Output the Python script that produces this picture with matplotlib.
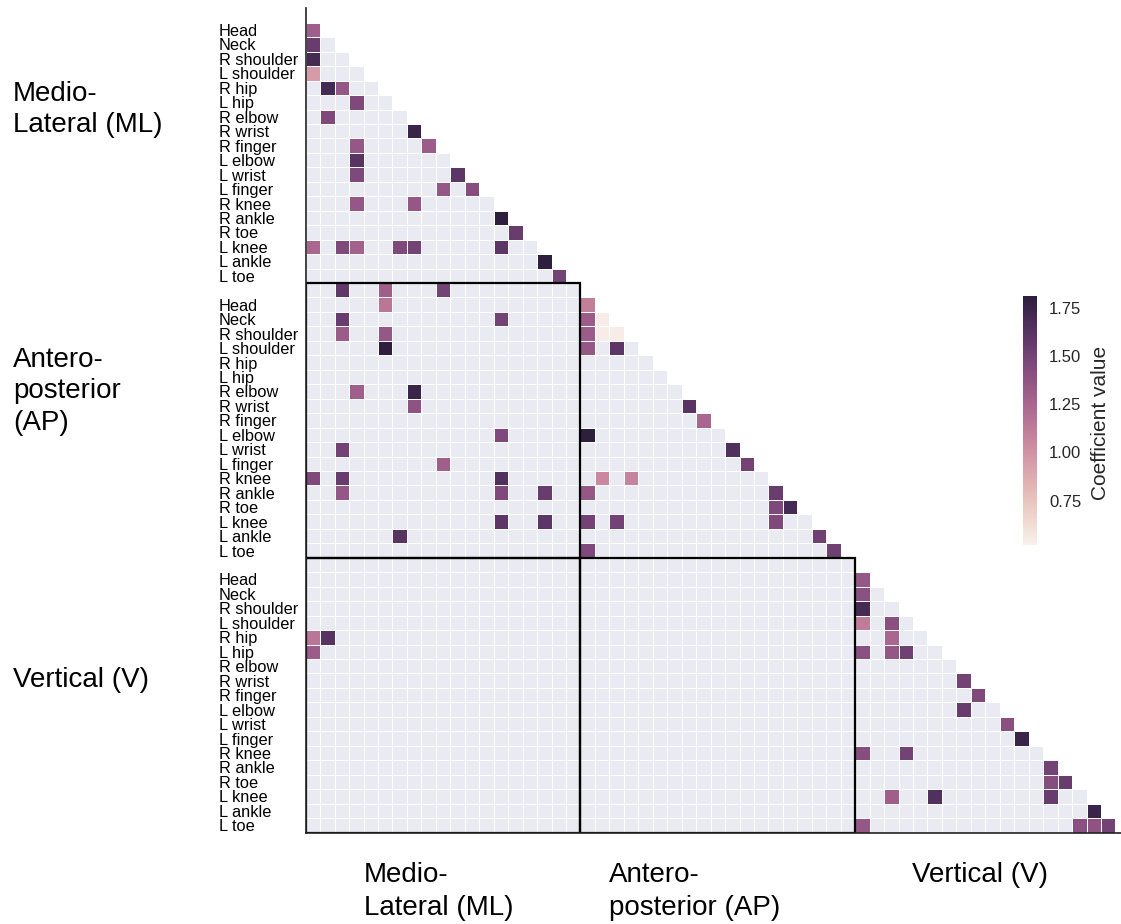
import numpy as np
import matplotlib
matplotlib.use("Agg")
import matplotlib.pyplot as plt
from matplotlib.colors import ListedColormap
from matplotlib.patches import Rectangle
import seaborn as sns

plt.rcParams['font.family'] = ['Liberation Sans', 'DejaVu Sans']

# ---------------- data ----------------
directions = ["Medio-\nLateral (ML)", "Antero-\nposterior\n(AP)", "Vertical (V)"]
x_directions = ["Medio-\nLateral (ML)", "Antero-\nposterior (AP)", "Vertical (V)"]
joints = ["Head", "Neck", "R shoulder", "L shoulder", "R hip", "L hip",
          "R elbow", "R wrist", "R finger", "L elbow", "L wrist", "L finger",
          "R knee", "R ankle", "R toe", "L knee", "L ankle", "L toe"]
# every direction block starts with one unlabeled variable, then the 18 joints
block_vars = [""] + joints

# significant coefficients: global row index, global column index, value
cell_row = [1, 2, 3, 4, 5, 5, 6, 7, 8, 9, 9, 10, 11, 11, 12, 12, 13, 13, 14, 15,
            16, 16, 16, 16, 16, 16, 17, 18,
            19, 19, 19, 20, 21, 21, 22, 22, 23, 26, 26, 27, 29, 30, 31, 32, 32, 32,
            33, 33, 33, 35, 35, 36,
            20, 21, 21, 22, 22, 22, 23, 23, 27, 28, 29, 30, 31, 32, 32, 33, 33, 34,
            34, 35, 35, 35, 36, 37, 37,
            43, 43, 44,
            39, 40, 41, 42, 42, 43, 44, 44, 44, 46, 47, 48, 49, 50, 51, 51, 52, 53,
            53, 54, 54, 54, 55, 56, 56, 56, 56]
cell_col = [0, 0, 0, 0, 1, 2, 3, 1, 7, 3, 8, 3, 3, 10, 9, 11, 3, 7, 13, 14,
            0, 2, 3, 6, 7, 13, 16, 17,
            2, 5, 9, 5, 2, 13, 2, 5, 5, 3, 7, 7, 13, 2, 9, 0, 2, 13,
            2, 13, 16, 13, 16, 6,
            19, 19, 20, 19, 20, 21, 19, 21, 26, 27, 19, 29, 30, 20, 22, 19, 32, 32,
            33, 19, 21, 32, 35, 19, 36,
            0, 1, 0,
            38, 38, 38, 38, 40, 40, 38, 40, 41, 45, 46, 45, 48, 49, 38, 41, 51, 51,
            52, 40, 43, 51, 54, 38, 53, 54, 55]
cell_value = [1.30, 1.55, 1.70, 0.95, 1.70, 1.35, 1.45, 1.45, 1.75, 1.35, 1.32, 1.62, 1.45, 1.60,
              1.35, 1.42, 1.35, 1.35, 1.80, 1.55,
              1.25, 1.45, 1.28, 1.45, 1.50, 1.60, 1.80, 1.50,
              1.58, 1.30, 1.50, 1.15, 1.55, 1.50, 1.32, 1.35, 1.80, 1.30, 1.75, 1.38, 1.45,
              1.50, 1.30, 1.45, 1.55, 1.65, 1.35, 1.45, 1.55, 1.60, 1.60, 1.62,
              1.10, 1.32, 0.55, 1.32, 0.55, 0.55, 1.35, 1.60, 1.62, 1.25, 1.80, 1.65, 1.50,
              1.05, 1.08, 1.35, 1.55, 1.45, 1.70, 1.50, 1.50, 1.45, 1.52, 1.45, 1.52,
              1.15, 1.62, 1.32,
              1.35, 1.40, 1.70, 1.12, 1.40, 1.25, 1.40, 1.35, 1.52, 1.50, 1.45, 1.55, 1.40,
              1.75, 1.42, 1.50, 1.50, 1.42, 1.55, 1.30, 1.65, 1.55, 1.75, 1.35, 1.40, 1.38, 1.50]
vmin, vmax = 0.52, 1.81
cbar_ticks = [0.75, 1.00, 1.25, 1.50, 1.75]

# ---------------- build matrices ----------------
nb = len(block_vars)
n = nb * len(directions)
rows_idx, cols_idx = np.indices((n, n))
lower = rows_idx > cols_idx
bg = np.ma.masked_where(~lower, np.ones((n, n)))
vals = np.full((n, n), np.nan)
vals[np.array(cell_row), np.array(cell_col)] = cell_value
vals = np.ma.masked_invalid(vals)

# ---------------- figure ----------------
W, H = 1121, 924
fig = plt.figure(figsize=(W / 100, H / 100), dpi=100)
cell = 14.46
ax_left, ax_top = 305.7, 8.3
ax = fig.add_axes([ax_left / W, 1 - (ax_top + n * cell) / H, n * cell / W, n * cell / H])
ax.set_facecolor('white')

edges = np.arange(n + 1)
ax.pcolormesh(edges, edges, bg, cmap=ListedColormap(['#eaeaf2']),
              edgecolors='white', linewidth=0.5)
cmap = sns.cubehelix_palette(light=0.95, dark=0.15, as_cmap=True)
mesh = ax.pcolormesh(edges, edges, vals, cmap=cmap, vmin=vmin, vmax=vmax,
                     edgecolors='white', linewidth=0.5)
ax.set_xlim(0, n)
ax.set_ylim(n, 0)

for (c0, r0) in [(0, nb), (0, 2 * nb), (nb, 2 * nb)]:
    ax.add_patch(Rectangle((c0, r0), nb, nb, fill=False, ec='black', lw=1.6, zorder=5))

for s in ['top', 'right']:
    ax.spines[s].set_visible(False)
for s in ['left', 'bottom']:
    ax.spines[s].set_color('#222222')
    ax.spines[s].set_linewidth(1.2)
    ax.spines[s].set_zorder(6)

yt, yl = [], []
for b in range(len(directions)):
    for j, name in enumerate(block_vars):
        if name:
            yt.append(b * nb + j + 0.5)
            yl.append(name)
ax.set_yticks(yt)
ax.set_yticklabels(yl, ha='left', fontsize=11.8, color='black')
ax.tick_params(axis='y', length=0, pad=(ax_left - 219) * 0.72)
ax.set_xticks([])

# direction labels
def ftext(x, y, s, **kw):
    fig.text(x / W, 1 - y / H, s, fontsize=20, color='black', va='baseline', **kw)

left_lines = [(101, "Medio-"), (132, "Lateral (ML)"),
              (367, "Antero-"), (398, "posterior"), (430, "(AP)"),
              (687, "Vertical (V)")]
for y, s in left_lines:
    ftext(13, y, s)

bottom_lines = [(364, 882, "Medio-"), (364, 915, "Lateral (ML)"),
                (609, 882, "Antero-"), (609, 915, "posterior (AP)"),
                (912, 882, "Vertical (V)")]
for x, y, s in bottom_lines:
    ftext(x, y, s)

# colorbar
cax = fig.add_axes([1022.7 / W, 1 - 545 / H, 14 / W, 249 / H])
cb = fig.colorbar(mesh, cax=cax, ticks=cbar_ticks, format='%.2f')
cb.outline.set_visible(False)
cax.tick_params(length=0, pad=(1049 - 1036.7) * 0.72, labelsize=12, labelcolor='#262626')
fig.text(1101 / W, 1 - 423 / H, "Coefficient value", rotation=90, fontsize=15,
         color='#262626', ha='center', va='center')

fig.savefig("out.png", dpi=100)
